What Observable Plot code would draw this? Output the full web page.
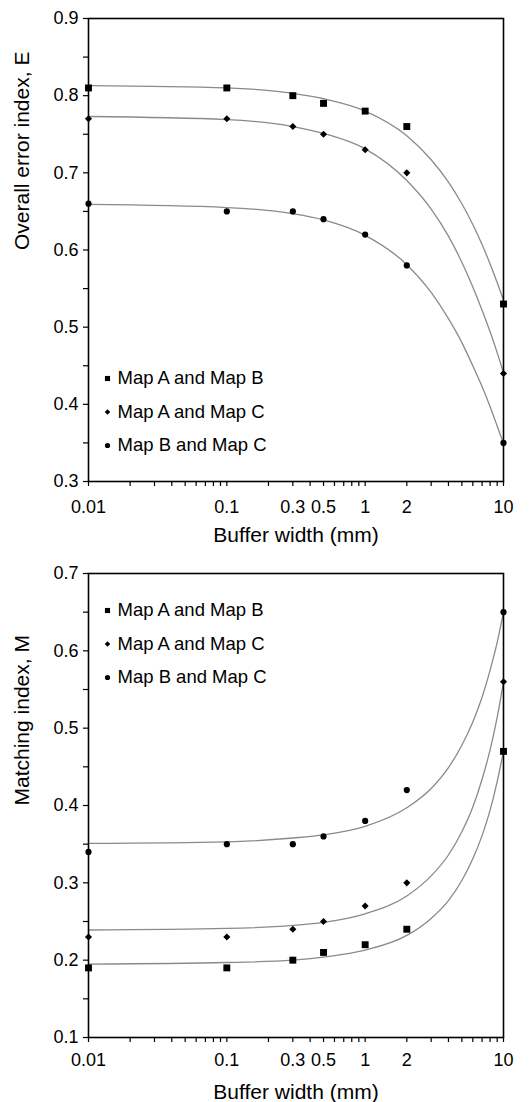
<!DOCTYPE html>
<html><head><meta charset="utf-8">
<script src="https://cdn.jsdelivr.net/npm/d3@7"></script>
<script src="https://cdn.jsdelivr.net/npm/@observablehq/plot@0.6"></script>
<style>
html,body{margin:0;padding:0;background:#fff;overflow:hidden;}
#chart{width:531px;}
#chart svg{display:block;}
</style></head><body><div id="chart"></div>
<script>
// ---- data ----
const seriesNames = ["Map A and Map B", "Map A and Map C", "Map B and Map C"];
const bufferWidth = [0.01, 0.1, 0.3, 0.5, 1, 2, 10];
const xTickLabels = [0.01, 0.1, 0.3, 0.5, 1, 2, 10];

// Overall error index, E (observed)
const errorAB = [0.81, 0.81, 0.80, 0.79, 0.78, 0.76, 0.53];
const errorAC = [0.77, 0.77, 0.76, 0.75, 0.73, 0.70, 0.44];
const errorBC = [0.66, 0.65, 0.65, 0.64, 0.62, 0.58, 0.35];

// Matching index, M (observed)
const matchAB = [0.19, 0.19, 0.20, 0.21, 0.22, 0.24, 0.47];
const matchAC = [0.23, 0.23, 0.24, 0.25, 0.27, 0.30, 0.56];
const matchBC = [0.34, 0.35, 0.35, 0.36, 0.38, 0.42, 0.65];

// fitted trend curves
const fitX = [0.01, 0.1, 0.3, 0.5, 1, 2, 3, 4, 5, 6, 7, 8, 9, 10];
const errorFitAB = [0.813, 0.810, 0.803, 0.796, 0.780, 0.748, 0.717, 0.688, 0.660, 0.633, 0.607, 0.582, 0.558, 0.535];
const errorFitAC = [0.773, 0.769, 0.760, 0.751, 0.731, 0.690, 0.653, 0.618, 0.584, 0.552, 0.522, 0.494, 0.467, 0.441];
const errorFitBC = [0.659, 0.655, 0.647, 0.639, 0.619, 0.581, 0.545, 0.511, 0.480, 0.450, 0.423, 0.397, 0.372, 0.349];
const matchFitAB = [0.195, 0.197, 0.200, 0.204, 0.213, 0.232, 0.254, 0.277, 0.303, 0.331, 0.361, 0.394, 0.431, 0.470];
const matchFitAC = [0.239, 0.241, 0.245, 0.249, 0.260, 0.283, 0.309, 0.336, 0.366, 0.398, 0.434, 0.472, 0.514, 0.560];
const matchFitBC = [0.351, 0.353, 0.358, 0.362, 0.373, 0.397, 0.422, 0.449, 0.478, 0.508, 0.540, 0.575, 0.611, 0.650];

// ---- drawing ----
const FONT = "'Liberation Sans', Arial, Helvetica, sans-serif";
const symbols = ["square", "diamond2", "circle"];
const dotR = [3.9, 3.2, 3.1];
const legendR = [2.9, 2.5, 2.6];

const xTicks = [];
for (let e = -2; e <= 0; e++) for (let k = 1; k <= 9; k++) xTicks.push(+(k * 10 ** e).toFixed(2));
xTicks.push(10);

function panel({yLabel, yDomain, obs, fits, height, mt, mb, tickPad, titleDy, legendAnchor, legendDy}) {
  const yTicks = d3.range(Math.round(yDomain[0] * 20), Math.round(yDomain[1] * 20) + 1).map(v => v / 20);
  const yMajor = yTicks.filter(d => Math.round(d * 100) % 10 === 0);
  const marks = [];
  seriesNames.forEach((name, i) => {
    const line = fitX.map((x, j) => ({x, y: fits[i][j]}));
    marks.push(Plot.line(line, {x: "x", y: "y", stroke: "#8a8a8a", strokeWidth: 1.3, curve: "monotone-x"}));
  });
  seriesNames.forEach((name, i) => {
    const pts = bufferWidth.map((x, j) => ({x, y: obs[i][j]}));
    marks.push(Plot.dot(pts, {x: "x", y: "y", symbol: symbols[i], r: dotR[i], fill: "black", stroke: "none"}));
  });
  marks.push(Plot.frame({stroke: "black", strokeWidth: 1.6}));
  // tick marks
  marks.push(Plot.axisX({ticks: xTicks, tickFormat: null, text: null, tickSize: 5, label: null, stroke: "black", strokeWidth: 1.2}));
  marks.push(Plot.axisY({ticks: yTicks, tickFormat: null, text: null, tickSize: 5, label: null, stroke: "black", strokeWidth: 1.2}));
  // tick labels
  marks.push(Plot.text(xTickLabels, {x: d => d, text: d => String(d), frameAnchor: "bottom", dy: tickPad + 5, lineAnchor: "top", fontSize: 18, fill: "black"}));
  marks.push(Plot.axisY({ticks: yMajor, tickFormat: d3.format(".1f"), tickSize: 0, tickPadding: 10, label: null, fontSize: 18, fill: "black"}));
  marks.push(Plot.text([yLabel], {text: d => d, frameAnchor: "left", dx: -66, rotate: -90, lineAnchor: "middle", fontSize: 21, fill: "black"}));
  marks.push(Plot.text(["Buffer width (mm)"], {text: d => d, frameAnchor: "bottom", dy: titleDy, lineAnchor: "middle", fontSize: 21, fill: "black"}));
  seriesNames.forEach((name, i) => {
    const dy = legendDy[0] + i * legendDy[1];
    marks.push(Plot.dot([name], {frameAnchor: legendAnchor, dx: 19, dy, symbol: symbols[i], r: legendR[i], fill: "black", stroke: "none"}));
    marks.push(Plot.text([name], {text: d => d, frameAnchor: legendAnchor, dx: 29, dy, textAnchor: "start", lineAnchor: "middle", fontSize: 18.5, fill: "black"}));
  });
  return Plot.plot({
    width: 531, height,
    marginTop: mt, marginBottom: mb, marginLeft: 88, marginRight: 28,
    style: {fontFamily: FONT, fontSize: "18px", color: "black", background: "white"},
    x: {type: "log", domain: [0.01, 10]},
    y: {domain: yDomain},
    marks
  });
}

const chart = document.getElementById("chart");
chart.appendChild(panel({
  yLabel: "Overall error index, E", yDomain: [0.3, 0.9],
  obs: [errorAB, errorAC, errorBC], fits: [errorFitAB, errorFitAC, errorFitBC],
  height: 551, mt: 18, mb: 70, tickPad: 14, titleDy: 54,
  legendAnchor: "bottom-left", legendDy: [-103, 33.5]
}));
chart.appendChild(panel({
  yLabel: "Matching index, M", yDomain: [0.1, 0.7],
  obs: [matchAB, matchAC, matchBC], fits: [matchFitAB, matchFitAC, matchFitBC],
  height: 551, mt: 22, mb: 65, tickPad: 11, titleDy: 55,
  legendAnchor: "top-left", legendDy: [37, 33.5]
}));
</script></body></html>
